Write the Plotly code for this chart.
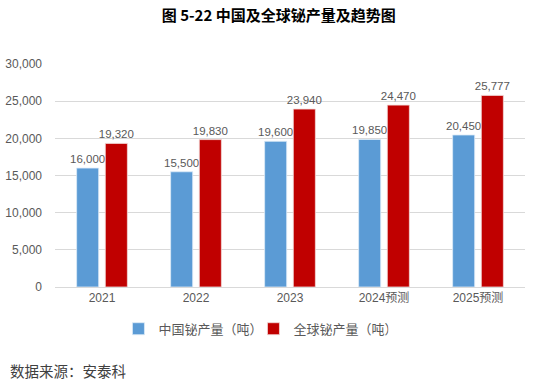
import plotly.graph_objects as go

categories = ["2021", "2022", "2023", "2024预测", "2025预测"]
china = [16000, 15500, 19600, 19850, 20450]
world = [19320, 19830, 23940, 24470, 25777]
tick_vals = [0, 5000, 10000, 15000, 20000, 25000, 30000]
tick_text = ["0", "5,000", "10,000", "15,000", "20,000", "25,000", "30,000"]

font_cjk = "Noto Sans CJK SC"
gray = "#595959"

fig = go.Figure()
fig.add_trace(go.Bar(
    x=categories, y=china, name="中国铋产量（吨）",
    marker=dict(color="#5B9BD5", line=dict(color="#DDEBF7", width=0.8)),
    text=[f"{v:,}" for v in china], textposition="outside", constraintext="none",
    textfont=dict(size=11.5, color=gray, family="Liberation Sans"),
    cliponaxis=False,
))
fig.add_trace(go.Bar(
    x=categories, y=world, name="全球铋产量（吨）",
    marker=dict(color="#C00000", line=dict(color="#F2DCDB", width=0.8)),
    text=[f"{v:,}" for v in world], textposition="outside", constraintext="none",
    textfont=dict(size=11.5, color=gray, family="Liberation Sans"),
    cliponaxis=False,
))

fig.update_layout(
    width=536, height=383,
    margin=dict(l=55, r=11, t=64, b=96, autoexpand=False),
    paper_bgcolor="white", plot_bgcolor="white",
    barmode="group", bargap=0.39, bargroupgap=0.23,
    title=dict(text="<b>图 5-22 中国及全球铋产量及趋势图</b>", x=0.52, xanchor="center",
               y=0.96, yanchor="middle", yref="container",
               font=dict(family=font_cjk, size=15, color="black")),
    xaxis=dict(showgrid=False, showline=True, linecolor="#D9D9D9", ticks="",
               automargin=False,
               tickfont=dict(family="Liberation Sans, " + font_cjk, size=12, color=gray)),
    yaxis=dict(range=[0, 30000], tickvals=tick_vals, ticktext=tick_text,
               showgrid=True, gridcolor="#D9D9D9", zeroline=False, showline=False,
               automargin=False,
               tickfont=dict(family="Liberation Sans", size=12, color=gray),
               ticklabelstandoff=12),
    legend=dict(orientation="h", x=0.135, xanchor="left", y=-0.12, yanchor="top",
                font=dict(family=font_cjk, size=13, color=gray),
                itemwidth=30, tracegroupgap=0, entrywidth=90, entrywidthmode="pixels"),
    showlegend=True,
    annotations=[dict(text="数据来源：安泰科", xref="paper", yref="paper",
                      x=-0.1, y=-0.375, xanchor="left", yanchor="middle", showarrow=False,
                      font=dict(family=font_cjk, size=14.5, color="#404040"))],
)

fig.write_html("out.html", config={"displayModeBar": False},
               post_script="document.body.style.margin='0';document.body.style.overflow='hidden';")
